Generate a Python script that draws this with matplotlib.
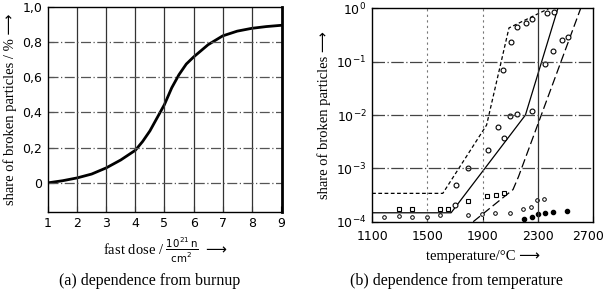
import matplotlib
matplotlib.use("Agg")
import matplotlib.pyplot as plt
import matplotlib.transforms as mtransforms

# (a) share of broken particles vs fast dose
dose = [1, 1.5, 2, 2.5, 3, 3.5, 4, 4.25, 4.5, 4.75, 5, 5.25, 5.5, 5.75, 6,
        6.5, 7, 7.5, 8, 8.5, 9]
share_a = [0.0, 0.012, 0.028, 0.05, 0.085, 0.13, 0.185, 0.235, 0.295, 0.37,
           0.445, 0.54, 0.615, 0.675, 0.715, 0.785, 0.835, 0.862, 0.878,
           0.888, 0.895]

# (b) share of broken particles vs temperature
line_dot_t = [1100, 1612, 1929, 2091, 2309, 2382]
line_dot_v = [3.4e-4, 3.4e-4, 6.5e-3, 0.43, 0.81, 1.0]
line_solid_t = [1100, 1672, 2210, 2445]
line_solid_v = [1.47e-4, 1.47e-4, 1.0e-2, 1.0]
line_dash_t = [1832, 2120, 2160, 2610]
line_dash_v = [1.0e-4, 4.0e-4, 7.0e-4, 1.0]

circ_t = [1702, 1704, 1792, 1939, 2008, 2052, 2100, 2150, 2255, 2047, 2106,
          2152, 2211, 2260, 2365, 2414, 2350, 2406, 2473, 2517]
circ_v = [2.1e-4, 4.8e-4, 1.0e-3, 2.2e-3, 6.0e-3, 3.7e-3, 9.6e-3, 1.04e-2,
          1.19e-2, 7.0e-2, 0.237, 0.45, 0.54, 0.62, 0.83, 0.87, 0.091, 0.16,
          0.25, 0.29]
small_t = [1188, 1293, 1391, 1501, 1594, 1795, 1893, 1990, 2096, 2191, 2247,
           2296, 2346]
small_v = [1.2e-4, 1.27e-4, 1.24e-4, 1.24e-4, 1.33e-4, 1.33e-4, 1.39e-4,
           1.43e-4, 1.47e-4, 1.7e-4, 1.86e-4, 2.5e-4, 2.7e-4]
sq_t = [1293, 1391, 1594, 1653, 1795, 1933, 1999, 2052]
sq_v = [1.7e-4, 1.7e-4, 1.7e-4, 1.7e-4, 2.47e-4, 3.0e-4, 3.16e-4, 3.4e-4]
fill_t = [2199, 2255, 2304, 2350, 2412, 2512]
fill_v = [1.12e-4, 1.2e-4, 1.37e-4, 1.47e-4, 1.51e-4, 1.6e-4]

ARROW = "\u27f6"
serif = ["Liberation Serif", "DejaVu Sans"]
plt.rcParams["mathtext.fontset"] = "dejavusans"

fig = plt.figure(figsize=(6.04, 2.98), dpi=100)


def style_ticks(ax):
    ax.tick_params(direction="in", length=4, width=0.8, pad=4)
    for lab in ax.get_xticklabels() + ax.get_yticklabels():
        lab.set_family("DejaVu Sans")
        lab.set_fontsize(9)
    for s in ax.spines.values():
        s.set_linewidth(1.0)


# ---- panel (a)
ax1 = fig.add_axes([0.0795, 0.289, 0.387, 0.688])
ax1.plot(dose, share_a, color="black", lw=2.0)
ax1.set_xlim(1, 9.03)
ax1.set_ylim(-0.165, 1.0)
ax1.set_xticks(range(1, 10))
ax1.set_yticks([0, 0.2, 0.4, 0.6, 0.8, 1.0])
ax1.set_yticklabels(["0", "0,2", "0,4", "0,6", "0,8", "1,0"])
for x in range(2, 9):
    ax1.axvline(x, color="#333333", lw=0.9)
for y in [0, 0.2, 0.4, 0.6, 0.8]:
    ax1.axhline(y, color="#555555", lw=0.9, ls=(0, (8, 2, 1, 2)))
style_ticks(ax1)
ax1.spines["right"].set_linewidth(2.0)
ax1.set_ylabel("share of broken particles / % " + ARROW, family=serif,
               fontsize=10.5, labelpad=4)
ax1.set_xlabel(r"fast dose / $\frac{10^{21}\,\mathrm{n}}{\mathrm{cm}^2}$ "
               r"$\longrightarrow$", family="Liberation Serif",
               fontsize=10.5, labelpad=4)

# ---- panel (b)
ax2 = fig.add_axes([0.616, 0.256, 0.366, 0.716])
ax2.set_yscale("log")
ax2.plot(line_dot_t, line_dot_v, color="black", lw=0.9, ls=(0, (3, 2)))
ax2.plot(line_solid_t, line_solid_v, color="black", lw=0.9)
ax2.plot(line_dash_t, line_dash_v, color="black", lw=0.9, ls=(0, (7, 3)))
ax2.plot(circ_t, circ_v, "o", mfc="white", mec="black", ms=3.5, mew=0.8)
ax2.plot(small_t, small_v, "o", mfc="white", mec="black", ms=2.6, mew=0.7)
ax2.plot(sq_t, sq_v, "s", mfc="white", mec="black", ms=3.5, mew=0.8)
ax2.plot(fill_t, fill_v, "o", mfc="black", mec="black", ms=3)
ax2.set_xlim(1100, 2700)
ax2.set_ylim(1e-4, 1.0)
ax2.set_xticks([1100, 1500, 1900, 2300, 2700])
ax2.set_yticks([1e-4, 1e-3, 1e-2, 1e-1, 1])
ax2.yaxis.set_minor_locator(matplotlib.ticker.NullLocator())
for x in [1500, 1900]:
    ax2.axvline(x, color="#777777", lw=0.8, ls=(0, (2, 3)))
ax2.axvline(2300, color="#333333", lw=0.9)
for y in [1e-3, 1e-2, 1e-1]:
    ax2.axhline(y, color="#444444", lw=0.9, ls=(0, (10, 2, 1, 2)))
style_ticks(ax2)
ax2.tick_params(axis="x", pad=6)
# keep the last temperature label inside the figure
last = ax2.get_xticklabels()[-1]
last.set_transform(last.get_transform()
                   + mtransforms.ScaledTranslation(-5 / 100, 0,
                                                   fig.dpi_scale_trans))
ax2.set_ylabel("share of broken particles " + ARROW, family=serif,
               fontsize=10.5, labelpad=4)
ax2.set_xlabel("temperature/\u00b0C " + ARROW, family=serif, fontsize=10.5,
               labelpad=5)

fig.text(0.248, 0.045, "(a) dependence from burnup", family=serif,
         fontsize=11.5, ha="center")
fig.text(0.755, 0.045, "(b) dependence from temperature", family=serif,
         fontsize=11.5, ha="center")

fig.savefig("out.png", dpi=100)
